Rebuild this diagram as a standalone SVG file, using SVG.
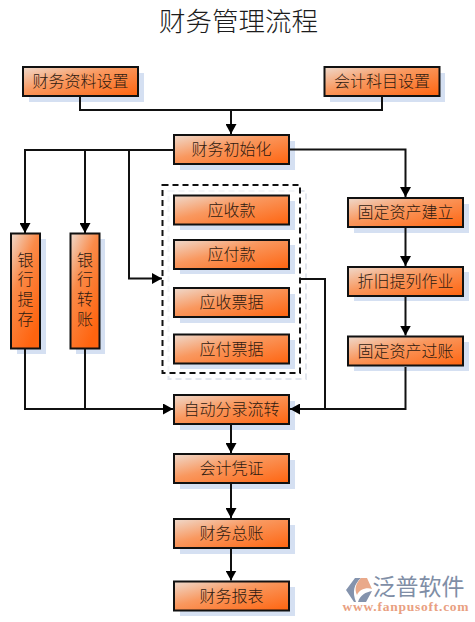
<svg xmlns="http://www.w3.org/2000/svg" width="475" height="622" viewBox="0 0 475 622">
<style>
text{font-family:"Noto Sans CJK SC","Noto Sans CJK JP",sans-serif;fill:#2e1a10;font-size:16px;text-anchor:middle;font-weight:300}
.t{font-size:26.5px;fill:#1c1c1c}
.vt{writing-mode:vertical-rl;text-orientation:upright;letter-spacing:3.700px}
.b{fill:url(#g);stroke:#111;stroke-width:2}
.v{fill:url(#gv);stroke:#111;stroke-width:2}
.s{fill:#d5e0f2}
.c{fill:none;stroke:#111;stroke-width:2}
</style>
<defs>
<linearGradient id="g" x1="0" y1="0" x2="1" y2="1">
<stop offset="0" stop-color="#efdacd"/><stop offset="0.42" stop-color="#f9985f"/><stop offset="1" stop-color="#ff640f"/>
</linearGradient>
<linearGradient id="gv" x1="0" y1="0" x2="0.6" y2="1">
<stop offset="0" stop-color="#efdacd"/><stop offset="0.42" stop-color="#fa8a48"/><stop offset="1" stop-color="#ff640f"/>
</linearGradient>
<marker id="a" markerUnits="userSpaceOnUse" markerWidth="11" markerHeight="11" refX="10" refY="5.5" orient="auto">
<path d="M0 0L10 5.500L0 11z" fill="#000"/>
</marker>
</defs>
<rect width="475" height="622" fill="#fff"/>
<text class="t" x="238.500" y="31">财务管理流程</text>
<g id="n1"><rect class="s" x="29" y="73" width="115" height="29"/><rect class="b" x="23" y="67" width="115" height="29"/><text x="80.500" y="87">财务资料设置</text></g>
<g id="n2"><rect class="s" x="330" y="73" width="115" height="29"/><rect class="b" x="324.500" y="67" width="115" height="29"/><text x="382" y="87">会计科目设置</text></g>
<g id="n3"><rect class="s" x="180" y="141" width="115" height="29"/><rect class="b" x="174" y="135" width="115" height="29"/><text x="231.500" y="155">财务初始化</text></g>
<g id="n4"><rect class="s" x="17" y="239" width="29" height="115"/><rect class="v" x="11" y="233.500" width="29" height="115"/><text class="vt" x="25.500" y="291">银行提存</text></g>
<g id="n5"><rect class="s" x="76" y="239" width="29" height="115"/><rect class="v" x="70.500" y="233.500" width="29" height="115"/><text class="vt" x="85" y="291">银行转账</text></g>
<g id="group-box"><rect x="168.500" y="191" width="137.500" height="188" fill="none" stroke="#e2e6ee" stroke-width="2" stroke-dasharray="6 4"/><rect x="162.500" y="185" width="137.500" height="188" fill="#fff" fill-opacity="0.6" stroke="#111" stroke-width="2" stroke-dasharray="6 4"/></g>
<g id="n6"><rect class="s" x="180" y="201" width="115" height="29"/><rect class="b" x="174" y="195.500" width="115" height="29"/><text x="231.500" y="215.500">应收款</text></g>
<g id="n7"><rect class="s" x="180" y="245" width="115" height="29"/><rect class="b" x="174" y="240" width="115" height="29"/><text x="231.500" y="260">应付款</text></g>
<g id="n8"><rect class="s" x="180" y="294" width="115" height="29"/><rect class="b" x="174" y="288" width="115" height="29"/><text x="231.500" y="308">应收票据</text></g>
<g id="n9"><rect class="s" x="180" y="340" width="115" height="29"/><rect class="b" x="174" y="334.500" width="115" height="29"/><text x="231.500" y="354.500">应付票据</text></g>
<g id="n10"><rect class="s" x="354" y="204" width="115" height="29"/><rect class="b" x="348" y="198" width="115" height="29"/><text x="405.500" y="218">固定资产建立</text></g>
<g id="n11"><rect class="s" x="354" y="272" width="115" height="29"/><rect class="b" x="348" y="267" width="115" height="29"/><text x="405.500" y="287">折旧提列作业</text></g>
<g id="n12"><rect class="s" x="354" y="342" width="115" height="29"/><rect class="b" x="348" y="336.500" width="115" height="29"/><text x="405.500" y="356.500">固定资产过账</text></g>
<g id="n13"><rect class="s" x="180" y="401" width="115" height="29"/><rect class="b" x="174" y="395" width="115" height="29"/><text x="231.500" y="415">自动分录流转</text></g>
<g id="n14"><rect class="s" x="180" y="460" width="115" height="29"/><rect class="b" x="174" y="454" width="115" height="29"/><text x="231.500" y="474">会计凭证</text></g>
<g id="n15"><rect class="s" x="180" y="525" width="115" height="29"/><rect class="b" x="174" y="519" width="115" height="29"/><text x="231.500" y="539">财务总账</text></g>
<g id="n16"><rect class="s" x="180" y="587" width="115" height="29"/><rect class="b" x="174" y="581.500" width="115" height="29"/><text x="231.500" y="601.500">财务报表</text></g>
<g id="connectors">
<path class="c" d="M80 97V110H382V97"/>
<path class="c" d="M231 110V134" marker-end="url(#a)"/>
<path class="c" d="M173 150H25V233" marker-end="url(#a)"/>
<path class="c" d="M85 150V233" marker-end="url(#a)"/>
<path class="c" d="M129 150V278.500H162" marker-end="url(#a)"/>
<path class="c" d="M290 149.500H405.500V197" marker-end="url(#a)"/>
<path class="c" d="M405.500 228V266" marker-end="url(#a)"/>
<path class="c" d="M405.500 297V335.500" marker-end="url(#a)"/>
<path class="c" d="M25 349V409H173" marker-end="url(#a)"/>
<path class="c" d="M85 349V409"/>
<path class="c" d="M301 279H325V409"/>
<path class="c" d="M405.500 367V409H290" marker-end="url(#a)"/>
<path class="c" d="M231 425V453" marker-end="url(#a)"/>
<path class="c" d="M231 484V518" marker-end="url(#a)"/>
<path class="c" d="M231 549V580.500" marker-end="url(#a)"/>
</g>
<g id="logo">
<path d="M346 590L355 578H361C354 584 352 592 356 602H354z" fill="#8493ad"/>
<path d="M361 578H367L372 589C366 587 359 590 357 595C354 589 356 583 361 578z" fill="#e9a98a"/>
<path d="M358 602C360 595 366 592 372 591L366 602z" fill="#8493ad"/>
<text x="418.500" y="595" style="font-size:23px;fill:#7f8ea6;font-weight:400">泛普软件</text>
<text x="406" y="610.500" style="font-family:'Liberation Serif',serif;font-size:13.500px;fill:#e9a081;font-weight:700;letter-spacing:.75px">www.fanpusoft.com</text>
</g>
</svg>
